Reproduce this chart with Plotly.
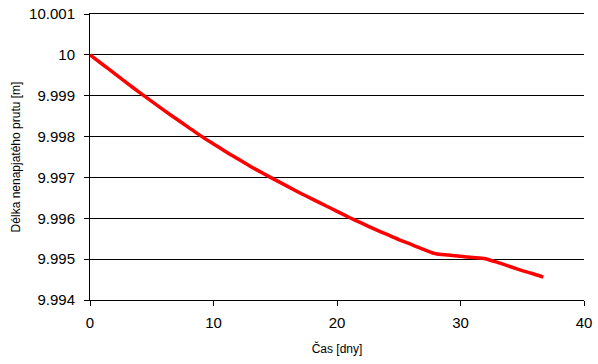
import plotly.graph_objects as go

cas_dny = [0, 1, 2, 3, 4, 5, 6, 7, 8, 9, 10, 11, 12, 13, 14, 15, 16, 17, 18, 19,
           20, 21, 22, 23, 24, 25, 26, 27, 28, 29, 30, 31, 32, 33, 34, 35, 36, 36.7]
delka_m = [10.00000, 9.99977, 9.99954, 9.99931, 9.99908, 9.99886, 9.99864, 9.99843,
           9.99822, 9.99801, 9.99782, 9.99763, 9.99745, 9.99727, 9.99710, 9.99694,
           9.99678, 9.99662, 9.99647, 9.99632, 9.99617, 9.99602, 9.99588, 9.99574,
           9.99561, 9.99548, 9.99536, 9.99524, 9.99513, 9.99510, 9.99507, 9.99504,
           9.99501, 9.99492, 9.99482, 9.99472, 9.99463, 9.99456]

y_ticks = [9.994, 9.995, 9.996, 9.997, 9.998, 9.999, 10.000, 10.001]
y_tick_text = ["9.994", "9.995", "9.996", "9.997", "9.998", "9.999", "10", "10.001"]
x_ticks = [0, 10, 20, 30, 40]

fig = go.Figure()
fig.add_trace(go.Scatter(x=cas_dny, y=delka_m, mode="lines",
                         line=dict(color="#ff0000", width=3.5, shape="spline", smoothing=0.6),
                         showlegend=False))

fig.update_layout(
    width=598, height=364,
    margin=dict(l=90, r=14, t=14, b=64),
    paper_bgcolor="white", plot_bgcolor="white",
    font=dict(family="Liberation Sans, Arial, sans-serif", color="black", size=15),
    xaxis=dict(range=[0, 40], tickvals=x_ticks, showgrid=False, zeroline=False,
               showline=True, mirror=True, linecolor="black", linewidth=1, automargin=False,
               ticks="outside", ticklen=5, tickcolor="black",
               tickfont=dict(size=15), ticklabelstandoff=4,
               title=dict(text="Čas [dny]", font=dict(size=12), standoff=14)),
    yaxis=dict(range=[9.994, 10.001], tickvals=y_ticks, ticktext=y_tick_text,
               showgrid=True, gridcolor="black", gridwidth=1, zeroline=False,
               showline=True, linecolor="black", linewidth=1, automargin=False,
               ticks="outside", ticklen=5, tickcolor="black",
               tickfont=dict(size=15), ticklabelstandoff=6,
               title=dict(text="Délka nenapjatého prutu [m]", font=dict(size=12), standoff=5)),
)

fig.write_html("out.html", config={"displayModeBar": False},
               post_script="document.body.style.margin='0';")
